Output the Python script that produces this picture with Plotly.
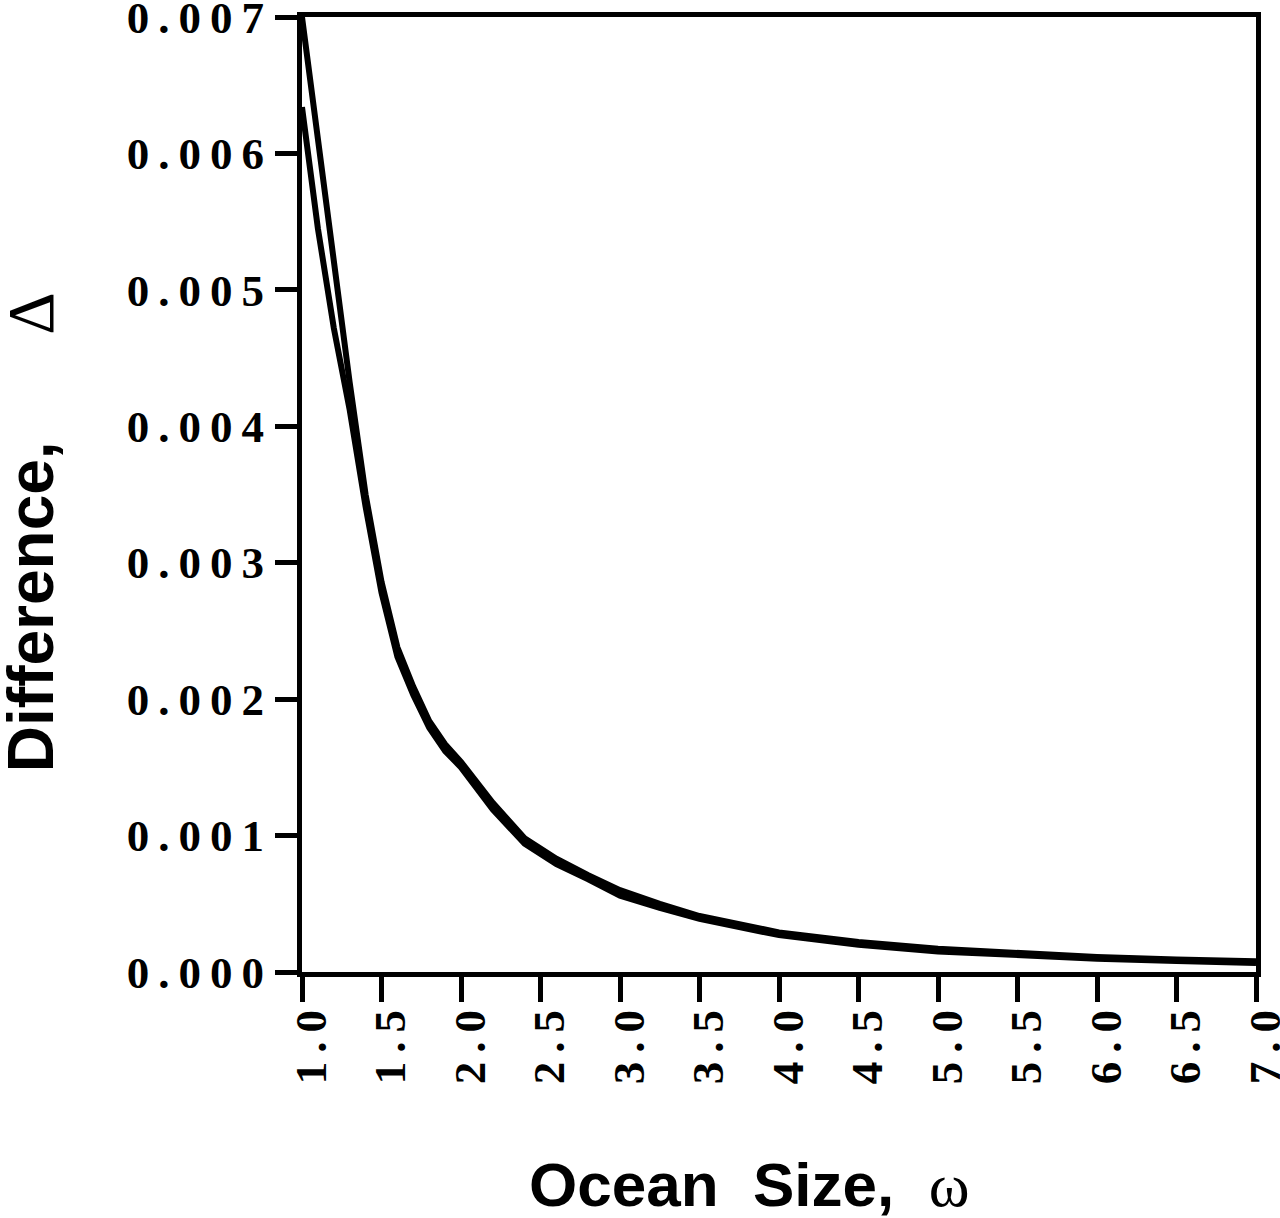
import plotly.graph_objects as go

# Data
omega = [1.0, 1.1, 1.2, 1.3, 1.4, 1.5, 1.6, 1.7, 1.8, 1.9, 2.0, 2.2, 2.4, 2.6, 2.8,
         3.0, 3.25, 3.5, 4.0, 4.5, 5.0, 5.5, 6.0, 6.5, 7.0]
delta_a = [0.00700, 0.00610, 0.00520, 0.00432, 0.00350, 0.00286, 0.00238, 0.00209,
           0.00184, 0.00167, 0.00154, 0.00124, 0.00098, 0.00083, 0.00071, 0.00060,
           0.00050, 0.00041, 0.00029, 0.00022, 0.00017, 0.00014, 0.00011, 0.000092,
           0.000078]
delta_b = [0.00634, 0.00545, 0.00472, 0.00412, 0.00341, 0.00278, 0.00231, 0.00203,
           0.00179, 0.00162, 0.00150, 0.00119, 0.00094, 0.00079, 0.00068, 0.00056,
           0.00047, 0.00039, 0.00027, 0.00020, 0.00015, 0.00012, 0.000098, 0.000080,
           0.000066]

T = "\u2009"  # thin space used for the spaced-out tick numerals
y_tickvals = [0.000, 0.001, 0.002, 0.003, 0.004, 0.005, 0.006, 0.007]
y_ticktext = [T.join(s) for s in ["0.000", "0.001", "0.002", "0.003",
                                   "0.004", "0.005", "0.006", "0.007"]]
x_tickvals = [1.0, 1.5, 2.0, 2.5, 3.0, 3.5, 4.0, 4.5, 5.0, 5.5, 6.0, 6.5, 7.0]
x_ticktext = [T.join(s) for s in ["1.0", "1.5", "2.0", "2.5", "3.0", "3.5", "4.0",
                                   "4.5", "5.0", "5.5", "6.0", "6.5", "7.0"]]

fig = go.Figure()
fig.add_trace(go.Scatter(x=omega, y=delta_a, mode="lines",
                         line=dict(color="black", width=6), showlegend=False))
fig.add_trace(go.Scatter(x=omega, y=delta_b, mode="lines",
                         line=dict(color="black", width=6), showlegend=False))

tick_font = dict(family="Liberation Serif", size=45, color="black", weight="bold")

fig.update_xaxes(range=[1, 7], tickvals=x_tickvals, ticktext=x_ticktext,
                 tickangle=-90, ticks="outside", ticklen=25, tickwidth=5,
                 tickcolor="black", showline=True, linewidth=5, linecolor="black",
                 mirror=True, showgrid=False, zeroline=False, tickfont=tick_font,
                 ticklabelstandoff=-10, ticklabelshift=9, ticklabeloverflow="allow")
fig.update_yaxes(range=[0, 0.007], tickvals=y_tickvals, ticktext=y_ticktext,
                 ticks="outside", ticklen=22, tickwidth=5, tickcolor="black",
                 showline=True, linewidth=5, linecolor="black", mirror=True,
                 showgrid=False, zeroline=False, tickfont=tick_font,
                 ticklabelstandoff=2, ticklabeloverflow="allow")

sym = ("<span style=\"font-family:'Liberation Serif';font-weight:normal;"
       "font-size:{}px\">{}</span>")
nb = "\u00a0"

fig.add_annotation(text="Difference," + nb * 6 + sym.format(66, "Δ"),
                   xref="paper", yref="paper", x=-0.2850, y=0.4607,
                   textangle=-90, showarrow=False, xanchor="center", yanchor="middle",
                   font=dict(family="Liberation Sans", size=64, color="black",
                             weight="bold"))
fig.add_annotation(text="Ocean" + nb * 2 + "Size," + nb * 2 + sym.format(62, "ω"),
                   xref="paper", yref="paper", x=0.4696, y=-0.223,
                   showarrow=False, xanchor="center", yanchor="middle",
                   font=dict(family="Liberation Sans", size=62, color="black",
                             weight="bold"))

fig.update_layout(width=1280, height=1218,
                  margin=dict(l=302, r=24, t=17, b=246, autoexpand=False),
                  plot_bgcolor="white", paper_bgcolor="white")

fig.write_html("out.html")
